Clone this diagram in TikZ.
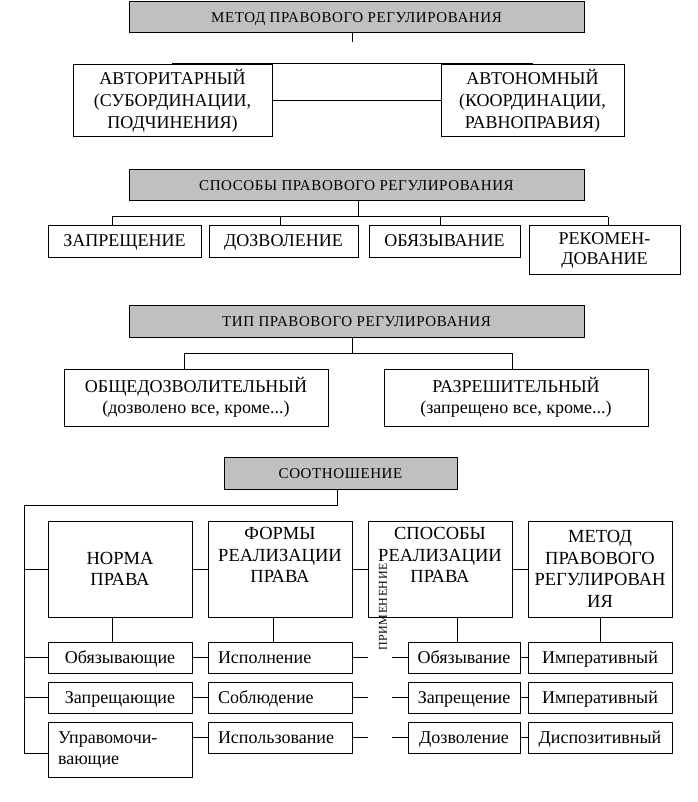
\documentclass[tikz,border=0pt]{standalone}
\usepackage{fontspec}
\setmainfont{Liberation Serif}
\newfontfamily\grayfont[LetterSpace=4]{Liberation Serif}
\definecolor{boxgray}{HTML}{C0C0C0}
\begin{document}
\begin{tikzpicture}[x=1pt,y=-1pt,
  box/.style={draw, line width=1pt, inner sep=0pt, align=center, font=\fontsize{18}{22}\selectfont},
  oneline/.style={text height=12pt, text depth=1pt},
  bigbox/.style={box, minimum width=144, minimum height=96, font=\fontsize{18.5}{21.5}\selectfont},
  smallbox/.style={box, oneline, minimum width=144, minimum height=31},
  leftbox/.style={smallbox, text width=124, align=left},
  graybox/.style={draw, line width=1pt, fill=boxgray, inner sep=0pt, text height=10pt, text depth=0pt, font=\grayfont\fontsize{15}{17}\selectfont},
  conn/.style={line width=1pt}]
\useasboundingbox (0,0) rectangle (697,802);

% ---------- Section 1 ----------
\node[graybox, minimum width=455, minimum height=31] (m1) at (356.5,17.5) {МЕТОД ПРАВОВОГО РЕГУЛИРОВАНИЯ};
\node[box, minimum width=199, minimum height=72] (a1) at (172.5,101) {АВТОРИТАРНЫЙ\\(СУБОРДИНАЦИИ,\\ПОДЧИНЕНИЯ)};
\node[box, minimum width=183, minimum height=72] (a2) at (532.5,101) {АВТОНОМНЫЙ\\(КООРДИНАЦИИ,\\РАВНОПРАВИЯ)};
\coordinate (s1a) at (352,33);
\coordinate (s1b) at (352,42);
\coordinate (h1l) at (172,64);
\coordinate (h1r) at (533,64);
\draw[conn] (s1a) -- (s1b);
\draw[conn] (h1l) -- (h1r);
\draw[conn] (a1.east) -- (a2.west);

% ---------- Section 2 ----------
\node[graybox, minimum width=455, minimum height=31] (m2) at (356.5,185.5) {СПОСОБЫ ПРАВОВОГО РЕГУЛИРОВАНИЯ};
\node[box, oneline, minimum width=153, minimum height=31] (b1) at (124.5,241.5) {ЗАПРЕЩЕНИЕ};
\node[box, oneline, minimum width=149, minimum height=31] (b2) at (283.5,241.5) {ДОЗВОЛЕНИЕ};
\node[box, oneline, minimum width=151, minimum height=31] (b3) at (444.5,241.5) {ОБЯЗЫВАНИЕ};
\node[box, minimum width=151, minimum height=48, font=\fontsize{18}{20}\selectfont] (b4) at (604.5,250) {РЕКОМЕН-\\ДОВАНИЕ};
\coordinate (s2a) at (358,201);
\coordinate (s2b) at (358,217);
\coordinate (d1) at (112,217);
\coordinate (d2) at (280,217);
\coordinate (d3) at (440,217);
\coordinate (d4) at (608,217);
\draw[conn] (s2a) -- (s2b);
\draw[conn] (d1) -- (d4);
\draw[conn] (d1) -- (d1 |- b1.north);
\draw[conn] (d2) -- (d2 |- b2.north);
\draw[conn] (d3) -- (d3 |- b3.north);
\draw[conn] (d4) -- (d4 |- b4.north);

% ---------- Section 3 ----------
\node[graybox, minimum width=455, minimum height=32] (m3) at (356.5,321) {ТИП ПРАВОВОГО РЕГУЛИРОВАНИЯ};
\node[box, minimum width=264, minimum height=57, font=\fontsize{18}{21}\selectfont] (c1) at (196,397.5) {ОБЩЕДОЗВОЛИТЕЛЬНЫЙ\\(дозволено все, кроме...)};
\node[box, minimum width=264, minimum height=57, font=\fontsize{18}{21}\selectfont] (c2) at (516,397.5) {РАЗРЕШИТЕЛЬНЫЙ\\(запрещено все, кроме...)};
\coordinate (s3a) at (352,337);
\coordinate (s3b) at (352,353);
\coordinate (e1) at (184,353);
\coordinate (e2) at (512,353);
\draw[conn] (s3a) -- (s3b);
\draw[conn] (e1) -- (e2);
\draw[conn] (e1) -- (e1 |- c1.north);
\draw[conn] (e2) -- (e2 |- c2.north);

% ---------- Section 4 ----------
\node[graybox, minimum width=233, minimum height=32] (m4) at (340.5,473) {СООТНОШЕНИЕ};
\node[bigbox] (n1) at (120,569) {НОРМА\\ПРАВА};
\node[bigbox] (n2) at (280,569) {ФОРМЫ\\РЕАЛИЗАЦИИ\\ПРАВА\\\strut};
\node[bigbox] (n3) at (440,569) {СПОСОБЫ\\РЕАЛИЗАЦИИ\\ПРАВА\\\strut};
\node[bigbox] (n4) at (600,569) {МЕТОД\\ПРАВОВОГО\\РЕГУЛИРОВАН\\ИЯ};

\node[smallbox] (r11) at (120,657.5) {Обязывающие};
\node[smallbox] (r12) at (120,697.5) {Запрещающие};
\node[draw, line width=1pt, inner sep=0pt, minimum width=144, minimum height=55, text width=124, align=left, font=\fontsize{18}{21}\selectfont] (r13) at (120,749.5) {Управомочи-\\вающие};
\node[leftbox] (r21) at (280,657.5) {Исполнение};
\node[leftbox] (r22) at (280,697.5) {Соблюдение};
\node[leftbox] (r23) at (280,737.5) {Использование};
\node[smallbox, minimum width=112] (r31) at (464,657.5) {Обязывание};
\node[smallbox, minimum width=112] (r32) at (464,697.5) {Запрещение};
\node[smallbox, minimum width=112] (r33) at (464,737.5) {Дозволение};
\node[smallbox] (r41) at (600,657.5) {Императивный};
\node[smallbox] (r42) at (600,697.5) {Императивный};
\node[smallbox] (r43) at (600,737.5) {Диспозитивный};

\node[rotate=90, inner sep=0pt, font=\grayfont\fontsize{12}{13}\selectfont] (prim) at (383,607) {ПРИМЕНЕНИЕ};

\coordinate (s4a) at (337,489);
\coordinate (s4b) at (337,505);
\coordinate (L0) at (24,505);
\coordinate (L4) at (24,753);
\draw[conn] (s4a) -- (s4b) -- (L0) -- (L4);
\draw[conn] (L0 |- n1.west) -- (n1.west);
\draw[conn] (L0 |- r11.west) -- (r11.west);
\draw[conn] (L0 |- r12.west) -- (r12.west);
\draw[conn] (L4) -- (L4 -| r13.west);

\draw[conn] (n1.east) -- (n2.west);
\draw[conn] (n2.east) -- (n3.west);
\draw[conn] (n3.east) -- (n4.west);

\coordinate (x1) at (112,0);
\coordinate (x2) at (273,0);
\coordinate (x3) at (457,0);
\coordinate (x4) at (600,0);
\draw[conn] (n1.south -| x1) -- (r11.north -| x1);
\draw[conn] (n2.south -| x2) -- (r21.north -| x2);
\draw[conn] (n3.south -| x3) -- (r31.north -| x3);
\draw[conn] (n4.south -| x4) -- (r41.north -| x4);

\draw[conn] (r11.east) -- (r21.west);
\draw[conn] (r12.east) -- (r22.west);
\draw[conn] (r23.west -| r13.east) -- (r23.west);

\coordinate (gl) at (368,0);
\coordinate (gr) at (392,0);
\draw[conn] (r21.east) -- (r21.east -| gl);
\draw[conn] (r22.east) -- (r22.east -| gl);
\draw[conn] (r23.east) -- (r23.east -| gl);
\draw[conn] (r31.west -| gr) -- (r31.west);
\draw[conn] (r32.west -| gr) -- (r32.west);
\draw[conn] (r33.west -| gr) -- (r33.west);

\draw[conn] (r31.east) -- (r41.west);
\draw[conn] (r32.east) -- (r42.west);
\draw[conn] (r33.east) -- (r43.west);
\end{tikzpicture}
\end{document}
